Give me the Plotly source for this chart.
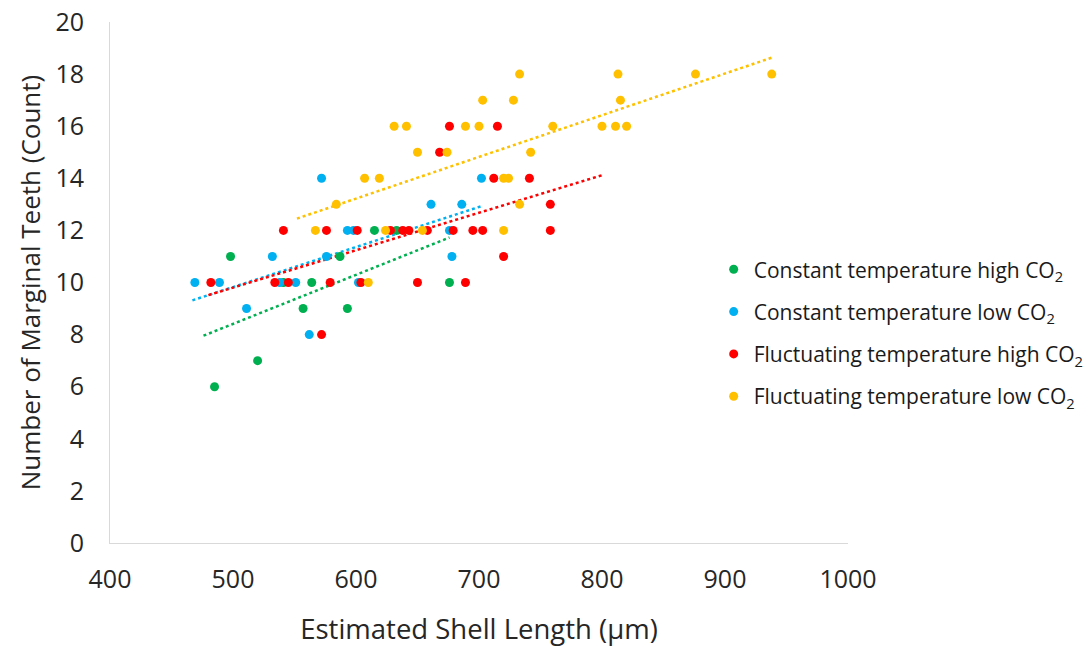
import numpy as np
import plotly.graph_objects as go

# Constant temperature high CO2
ct_high_x = [485, 520, 498, 557, 593, 541, 564, 587, 615, 633, 676]
ct_high_y = [6, 7, 11, 9, 9, 10, 10, 11, 12, 12, 10]

# Constant temperature low CO2
ct_low_x = [572, 661, 686, 702, 593, 598, 676, 532, 576, 678, 469, 489, 538, 551, 602, 511, 562]
ct_low_y = [14, 13, 13, 14, 12, 12, 12, 11, 11, 11, 10, 10, 10, 10, 10, 9, 8]

# Fluctuating temperature high CO2
ft_high_x = [676, 715, 668, 712, 741, 758, 541, 576, 601, 628, 638, 643, 658, 679, 695, 703, 758,
             720, 482, 534, 545, 579, 604, 650, 689, 572]
ft_high_y = [16, 16, 15, 14, 14, 13, 12, 12, 12, 12, 12, 12, 12, 12, 12, 12, 12,
             11, 10, 10, 10, 10, 10, 10, 10, 8]

# Fluctuating temperature low CO2
ft_low_x = [733, 813, 876, 938, 703, 728, 815, 631, 641, 689, 700, 760, 800, 811, 820,
            650, 674, 742, 607, 619, 720, 724, 584, 733, 567, 624, 654, 720, 610]
ft_low_y = [18, 18, 18, 18, 17, 17, 17, 16, 16, 16, 16, 16, 16, 16, 16,
            15, 15, 15, 14, 14, 14, 14, 13, 13, 12, 12, 12, 12, 10]

# Trendline extents
trend_ranges = {
    "ct_high": [476, 676],
    "ct_low": [467, 703],
    "ft_high": [480, 800],
    "ft_low": [552, 938],
}

names = [
    "Constant temperature high CO<sub>2</sub>",
    "Constant temperature low CO<sub>2</sub>",
    "Fluctuating temperature high CO<sub>2</sub>",
    "Fluctuating temperature low CO<sub>2</sub>",
]
colors = ["#00B050", "#00B0F0", "#FF0000", "#FFC000"]
series = [
    ("ct_high", ct_high_x, ct_high_y),
    ("ct_low", ct_low_x, ct_low_y),
    ("ft_high", ft_high_x, ft_high_y),
    ("ft_low", ft_low_x, ft_low_y),
]

fig = go.Figure()
# trendlines first (drawn under points)
for (key, xs, ys), col in zip(series, colors):
    m, b = np.polyfit(xs, ys, 1)
    tx = np.array(trend_ranges[key], dtype=float)
    fig.add_trace(go.Scatter(x=tx, y=m * tx + b, mode="lines",
                             line=dict(color=col, width=2.5, dash="dot"),
                             showlegend=False, hoverinfo="skip"))
for (key, xs, ys), col, nm in zip(series, colors, names):
    fig.add_trace(go.Scatter(x=xs, y=ys, mode="markers", name=nm, legendgroup=key,
                             marker=dict(color=col, size=9)))

font_family = "Open Sans"
txt = "#262626"
fig.update_layout(
    width=1091, height=647,
    margin=dict(l=110, r=243, t=22, b=104, autoexpand=False),
    paper_bgcolor="white", plot_bgcolor="white",
    font=dict(family=font_family, color=txt, size=19),
    showlegend=True,
    legend=dict(x=0.818, y=0.564, xanchor="left", yanchor="top",
                font=dict(size=21, color="#1a1a1a"), tracegroupgap=12,
                itemwidth=30, bgcolor="rgba(0,0,0,0)"),
    xaxis=dict(range=[400, 1000], dtick=100, tick0=400, showgrid=False, zeroline=False,
               showline=True, linecolor="#D9D9D9", linewidth=1, ticks="",
               ticklabelstandoff=14, tickfont=dict(size=25, color=txt), automargin=False,
               title=dict(text="Estimated Shell Length (µm)", font=dict(size=27.5, color=txt),
                          standoff=25)),
    yaxis=dict(range=[0, 20], dtick=2, tick0=0, showgrid=False, zeroline=False,
               showline=True, linecolor="#D9D9D9", linewidth=1, ticks="",
               ticklabelstandoff=20, tickfont=dict(size=25, color=txt), automargin=False,
               title=dict(text="Number of Marginal Teeth (Count)", font=dict(size=26, color=txt),
                          standoff=7)),
)

fig.write_html("out.html", config={"displayModeBar": False},
               post_script="document.body.style.margin='0';")
